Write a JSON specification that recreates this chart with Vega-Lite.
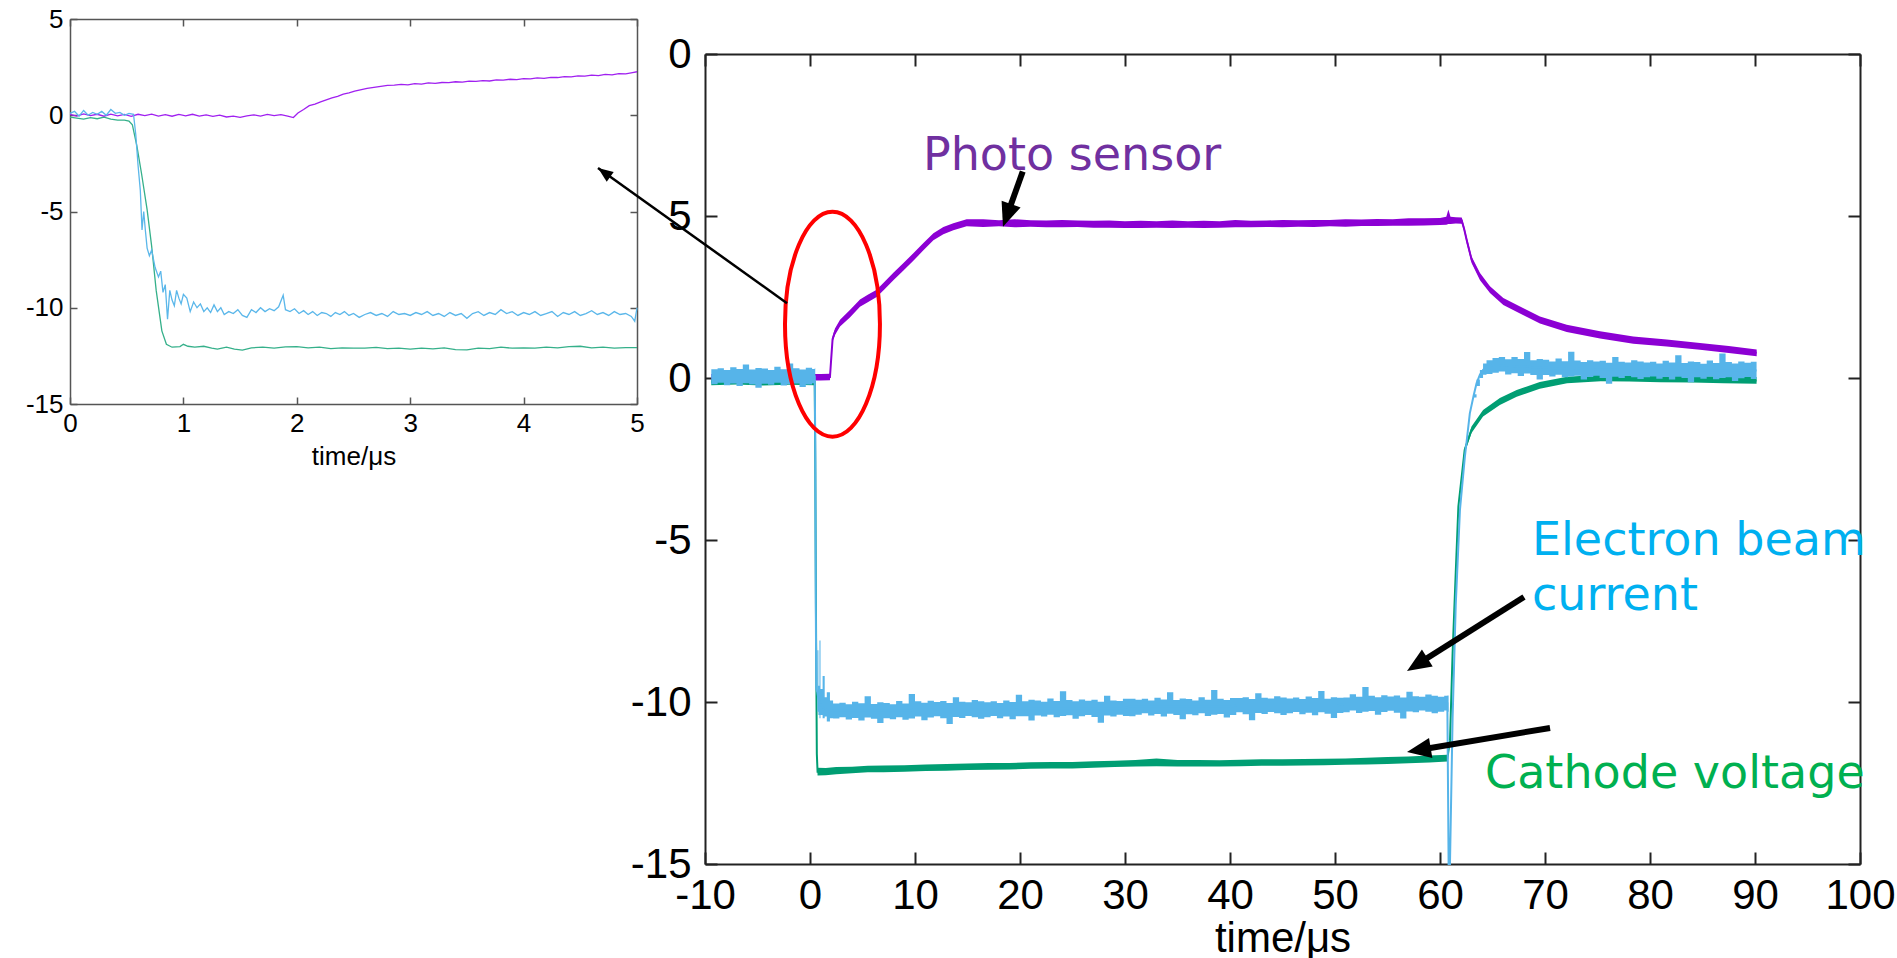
{
  "$schema": "https://vega.github.io/schema/vega-lite/v6.json",
  "background": "white",
  "padding": {"left": 25, "top": 6, "right": 0, "bottom": 0},
  "bounds": "flush",
  "spacing": 68,
  "config": {
    "view": {"stroke": null},
    "axis": {
      "grid": false,
      "labelFont": "Liberation Sans",
      "titleFont": "Liberation Sans",
      "labelColor": "#000",
      "titleColor": "#000",
      "titleFontWeight": "normal",
      "domainColor": "#222",
      "tickColor": "#222"
    }
  },
  "datasets": {
    "insetPhoto": [
      {"t":0.00,"y":0.04},{"t":0.06,"y":-0.04},{"t":0.12,"y":0.07},{"t":0.18,"y":-0.02},{"t":0.24,"y":0.05},{"t":0.30,"y":-0.05},
      {"t":0.36,"y":0.06},{"t":0.42,"y":-0.03},{"t":0.48,"y":0.04},{"t":0.54,"y":-0.06},{"t":0.60,"y":0.05},{"t":0.66,"y":-0.02},
      {"t":0.72,"y":0.06},{"t":0.78,"y":-0.04},{"t":0.84,"y":0.03},{"t":0.90,"y":-0.05},{"t":0.96,"y":0.04},{"t":1.02,"y":-0.03},
      {"t":1.08,"y":0.05},{"t":1.14,"y":-0.04},{"t":1.20,"y":0.02},{"t":1.26,"y":-0.06},{"t":1.32,"y":0.01},{"t":1.38,"y":-0.09},
      {"t":1.44,"y":-0.05},{"t":1.50,"y":-0.11},{"t":1.56,"y":-0.03},{"t":1.62,"y":0.02},{"t":1.68,"y":-0.04},{"t":1.74,"y":0.04},
      {"t":1.80,"y":-0.02},{"t":1.86,"y":0.03},{"t":1.92,"y":-0.04},{"t":1.97,"y":-0.12},{"t":2.01,"y":0.12},{"t":2.06,"y":0.30},
      {"t":2.11,"y":0.50},{"t":2.16,"y":0.58},{"t":2.21,"y":0.70},{"t":2.26,"y":0.80},{"t":2.31,"y":0.90},{"t":2.36,"y":0.98},
      {"t":2.41,"y":1.10},{"t":2.46,"y":1.16},{"t":2.51,"y":1.25},{"t":2.56,"y":1.32},{"t":2.62,"y":1.40},{"t":2.68,"y":1.45},
      {"t":2.74,"y":1.50},{"t":2.80,"y":1.55},{"t":2.86,"y":1.56},{"t":2.92,"y":1.60},{"t":2.98,"y":1.58},{"t":3.04,"y":1.64},
      {"t":3.10,"y":1.62},{"t":3.16,"y":1.68},{"t":3.22,"y":1.66},{"t":3.28,"y":1.70},{"t":3.34,"y":1.69},{"t":3.40,"y":1.74},
      {"t":3.46,"y":1.72},{"t":3.52,"y":1.77},{"t":3.58,"y":1.76},{"t":3.64,"y":1.80},{"t":3.70,"y":1.78},{"t":3.76,"y":1.84},
      {"t":3.82,"y":1.82},{"t":3.88,"y":1.87},{"t":3.94,"y":1.85},{"t":4.00,"y":1.90},{"t":4.06,"y":1.89},{"t":4.12,"y":1.94},
      {"t":4.18,"y":1.92},{"t":4.24,"y":1.97},{"t":4.30,"y":1.96},{"t":4.36,"y":2.01},{"t":4.42,"y":1.99},{"t":4.48,"y":2.04},
      {"t":4.54,"y":2.03},{"t":4.60,"y":2.08},{"t":4.66,"y":2.06},{"t":4.72,"y":2.12},{"t":4.78,"y":2.10},{"t":4.84,"y":2.16},
      {"t":4.90,"y":2.15},{"t":4.96,"y":2.22},{"t":5.00,"y":2.26}
    ],
    "insetCathode": [
      {"t":0.00,"y":-0.10},{"t":0.06,"y":-0.15},{"t":0.12,"y":-0.20},{"t":0.18,"y":-0.12},{"t":0.24,"y":-0.18},{"t":0.30,"y":-0.10},
      {"t":0.36,"y":-0.20},{"t":0.42,"y":-0.25},{"t":0.48,"y":-0.25},{"t":0.52,"y":-0.30},{"t":0.55,"y":-0.50},{"t":0.59,"y":-1.60},
      {"t":0.63,"y":-3.00},{"t":0.68,"y":-4.90},{"t":0.72,"y":-6.80},{"t":0.76,"y":-9.10},{"t":0.81,"y":-11.20},{"t":0.85,"y":-11.90},
      {"t":0.90,"y":-12.05},{"t":0.97,"y":-12.02},{"t":1.00,"y":-11.90},{"t":1.04,"y":-12.00},{"t":1.10,"y":-12.05},{"t":1.18,"y":-12.00},
      {"t":1.25,"y":-12.10},{"t":1.30,"y":-12.15},{"t":1.38,"y":-12.05},{"t":1.45,"y":-12.15},{"t":1.52,"y":-12.20},{"t":1.60,"y":-12.08},
      {"t":1.70,"y":-12.05},{"t":1.80,"y":-12.10},{"t":1.90,"y":-12.03},{"t":2.00,"y":-12.02},{"t":2.10,"y":-12.08},{"t":2.20,"y":-12.05},
      {"t":2.30,"y":-12.12},{"t":2.40,"y":-12.08},{"t":2.50,"y":-12.10},{"t":2.60,"y":-12.10},{"t":2.70,"y":-12.06},{"t":2.80,"y":-12.12},
      {"t":2.90,"y":-12.10},{"t":3.00,"y":-12.15},{"t":3.10,"y":-12.10},{"t":3.20,"y":-12.14},{"t":3.30,"y":-12.08},{"t":3.40,"y":-12.18},
      {"t":3.50,"y":-12.19},{"t":3.60,"y":-12.10},{"t":3.70,"y":-12.12},{"t":3.80,"y":-12.05},{"t":3.90,"y":-12.10},{"t":4.00,"y":-12.08},
      {"t":4.10,"y":-12.10},{"t":4.20,"y":-12.05},{"t":4.30,"y":-12.08},{"t":4.40,"y":-12.02},{"t":4.50,"y":-12.00},{"t":4.60,"y":-12.08},
      {"t":4.70,"y":-12.05},{"t":4.80,"y":-12.10},{"t":4.90,"y":-12.07},{"t":5.00,"y":-12.07}
    ],
    "insetBeam": [
      {"t":0.00,"y":0.10},{"t":0.04,"y":0.20},{"t":0.08,"y":-0.05},{"t":0.12,"y":0.25},{"t":0.16,"y":0.00},{"t":0.20,"y":0.15},
      {"t":0.24,"y":0.05},{"t":0.28,"y":0.20},{"t":0.32,"y":0.00},{"t":0.36,"y":0.30},{"t":0.40,"y":0.10},{"t":0.44,"y":0.15},
      {"t":0.48,"y":0.00},{"t":0.52,"y":0.10},{"t":0.56,"y":0.05},{"t":0.58,"y":-1.00},{"t":0.60,"y":-2.60},{"t":0.62,"y":-3.90},
      {"t":0.635,"y":-5.96},{"t":0.65,"y":-5.00},{"t":0.665,"y":-6.00},{"t":0.68,"y":-6.90},{"t":0.70,"y":-7.30},{"t":0.72,"y":-7.00},
      {"t":0.75,"y":-7.90},{"t":0.78,"y":-8.40},{"t":0.80,"y":-8.10},{"t":0.82,"y":-9.20},{"t":0.84,"y":-8.80},{"t":0.86,"y":-10.60},
      {"t":0.88,"y":-9.10},{"t":0.90,"y":-9.60},{"t":0.92,"y":-9.90},{"t":0.94,"y":-9.10},{"t":0.96,"y":-9.50},{"t":0.98,"y":-9.80},
      {"t":1.00,"y":-9.30},{"t":1.03,"y":-9.50},{"t":1.06,"y":-10.20},{"t":1.09,"y":-9.70},{"t":1.12,"y":-10.00},{"t":1.15,"y":-9.80},
      {"t":1.18,"y":-10.20},{"t":1.21,"y":-10.00},{"t":1.24,"y":-10.25},{"t":1.27,"y":-9.85},{"t":1.30,"y":-10.20},{"t":1.33,"y":-10.00},
      {"t":1.36,"y":-10.35},{"t":1.40,"y":-10.20},{"t":1.44,"y":-10.30},{"t":1.48,"y":-10.10},{"t":1.52,"y":-10.40},{"t":1.56,"y":-10.50},
      {"t":1.60,"y":-10.10},{"t":1.64,"y":-10.25},{"t":1.68,"y":-10.00},{"t":1.72,"y":-10.20},{"t":1.76,"y":-10.05},{"t":1.80,"y":-10.15},
      {"t":1.84,"y":-9.95},{"t":1.88,"y":-9.35},{"t":1.90,"y":-10.10},{"t":1.94,"y":-10.20},{"t":1.98,"y":-10.05},{"t":2.02,"y":-10.30},
      {"t":2.06,"y":-10.15},{"t":2.10,"y":-10.35},{"t":2.14,"y":-10.20},{"t":2.18,"y":-10.40},{"t":2.22,"y":-10.25},{"t":2.26,"y":-10.30},
      {"t":2.30,"y":-10.45},{"t":2.34,"y":-10.25},{"t":2.38,"y":-10.35},{"t":2.42,"y":-10.20},{"t":2.46,"y":-10.40},{"t":2.50,"y":-10.30},
      {"t":2.55,"y":-10.50},{"t":2.60,"y":-10.35},{"t":2.65,"y":-10.25},{"t":2.70,"y":-10.40},{"t":2.75,"y":-10.30},{"t":2.80,"y":-10.45},
      {"t":2.85,"y":-10.20},{"t":2.90,"y":-10.35},{"t":2.95,"y":-10.30},{"t":3.00,"y":-10.40},{"t":3.05,"y":-10.25},{"t":3.10,"y":-10.35},
      {"t":3.15,"y":-10.20},{"t":3.20,"y":-10.40},{"t":3.25,"y":-10.30},{"t":3.30,"y":-10.45},{"t":3.35,"y":-10.25},{"t":3.40,"y":-10.40},
      {"t":3.45,"y":-10.30},{"t":3.50,"y":-10.55},{"t":3.55,"y":-10.30},{"t":3.60,"y":-10.20},{"t":3.65,"y":-10.40},{"t":3.70,"y":-10.25},
      {"t":3.75,"y":-10.35},{"t":3.80,"y":-10.10},{"t":3.85,"y":-10.30},{"t":3.90,"y":-10.20},{"t":3.95,"y":-10.40},{"t":4.00,"y":-10.25},
      {"t":4.05,"y":-10.35},{"t":4.10,"y":-10.20},{"t":4.15,"y":-10.40},{"t":4.20,"y":-10.30},{"t":4.25,"y":-10.20},{"t":4.30,"y":-10.45},
      {"t":4.35,"y":-10.25},{"t":4.40,"y":-10.35},{"t":4.45,"y":-10.20},{"t":4.50,"y":-10.40},{"t":4.55,"y":-10.30},{"t":4.60,"y":-10.15},
      {"t":4.65,"y":-10.35},{"t":4.70,"y":-10.25},{"t":4.75,"y":-10.40},{"t":4.80,"y":-10.20},{"t":4.85,"y":-10.35},{"t":4.90,"y":-10.30},
      {"t":4.95,"y":-10.45},{"t":4.98,"y":-10.70},{"t":5.00,"y":-10.00}
    ],
    "mainPhoto": [
      {"t":-9.4,"y":0.02,"lo":-0.08,"hi":0.12},{"t":-6,"y":0.02,"lo":-0.08,"hi":0.12},{"t":-3,"y":0.02,"lo":-0.08,"hi":0.12},
      {"t":0,"y":0.02,"lo":-0.08,"hi":0.12},{"t":1.0,"y":0.02,"lo":-0.08,"hi":0.12},{"t":1.9,"y":0.03,"lo":-0.07,"hi":0.13},
      {"t":2.0,"y":0.5,"lo":0.5,"hi":0.5},{"t":2.15,"y":1.2,"lo":1.12,"hi":1.28},{"t":2.38,"y":1.43,"lo":1.33,"hi":1.53},
      {"t":2.86,"y":1.69,"lo":1.59,"hi":1.8},{"t":3.8,"y":1.98,"lo":1.87,"hi":2.1},{"t":4.76,"y":2.31,"lo":2.2,"hi":2.42},
      {"t":5.5,"y":2.45,"lo":2.34,"hi":2.57},{"t":6.35,"y":2.61,"lo":2.5,"hi":2.72},{"t":7.1,"y":2.85,"lo":2.74,"hi":2.97},
      {"t":7.94,"y":3.13,"lo":3.02,"hi":3.25},{"t":8.9,"y":3.43,"lo":3.32,"hi":3.55},{"t":9.84,"y":3.74,"lo":3.62,"hi":3.85},
      {"t":10.8,"y":4.05,"lo":3.94,"hi":4.17},{"t":11.75,"y":4.36,"lo":4.25,"hi":4.47},{"t":12.7,"y":4.55,"lo":4.44,"hi":4.66},
      {"t":13.65,"y":4.67,"lo":4.56,"hi":4.78},{"t":14.92,"y":4.79,"lo":4.68,"hi":4.9},{"t":16.5,"y":4.77,"lo":4.66,"hi":4.9},
      {"t":18.0,"y":4.78,"lo":4.68,"hi":4.87},{"t":19.5,"y":4.76,"lo":4.65,"hi":4.9},{"t":21.0,"y":4.77,"lo":4.67,"hi":4.87},
      {"t":22.5,"y":4.76,"lo":4.65,"hi":4.86},{"t":24.0,"y":4.75,"lo":4.65,"hi":4.88},{"t":25.5,"y":4.76,"lo":4.66,"hi":4.86},
      {"t":27.0,"y":4.75,"lo":4.64,"hi":4.85},{"t":28.5,"y":4.74,"lo":4.64,"hi":4.86},{"t":30.0,"y":4.74,"lo":4.63,"hi":4.84},
      {"t":31.5,"y":4.73,"lo":4.63,"hi":4.85},{"t":33.0,"y":4.74,"lo":4.64,"hi":4.84},{"t":34.5,"y":4.73,"lo":4.63,"hi":4.86},
      {"t":36.0,"y":4.74,"lo":4.64,"hi":4.84},{"t":37.5,"y":4.74,"lo":4.63,"hi":4.85},{"t":39.0,"y":4.74,"lo":4.64,"hi":4.84},
      {"t":40.5,"y":4.75,"lo":4.65,"hi":4.88},{"t":42.0,"y":4.75,"lo":4.65,"hi":4.85},{"t":43.5,"y":4.76,"lo":4.66,"hi":4.86},
      {"t":45.0,"y":4.76,"lo":4.65,"hi":4.88},{"t":46.5,"y":4.77,"lo":4.67,"hi":4.87},{"t":48.0,"y":4.77,"lo":4.66,"hi":4.88},
      {"t":49.5,"y":4.78,"lo":4.68,"hi":4.88},{"t":51.0,"y":4.78,"lo":4.67,"hi":4.9},{"t":52.5,"y":4.79,"lo":4.69,"hi":4.89},
      {"t":54.0,"y":4.8,"lo":4.69,"hi":4.91},{"t":55.5,"y":4.8,"lo":4.7,"hi":4.9},{"t":57.0,"y":4.81,"lo":4.7,"hi":4.93},
      {"t":58.5,"y":4.82,"lo":4.71,"hi":4.93},{"t":60.0,"y":4.83,"lo":4.72,"hi":4.94},{"t":60.6,"y":4.84,"lo":4.73,"hi":4.98},
      {"t":60.8,"y":4.9,"lo":4.75,"hi":5.2},{"t":61.0,"y":4.86,"lo":4.75,"hi":4.98},{"t":61.5,"y":4.87,"lo":4.77,"hi":4.96},
      {"t":62.07,"y":4.86,"lo":4.76,"hi":4.95},{"t":62.3,"y":4.6,"lo":4.52,"hi":4.68},{"t":62.54,"y":4.26,"lo":4.16,"hi":4.36},
      {"t":63.02,"y":3.64,"lo":3.54,"hi":3.74},{"t":63.81,"y":3.13,"lo":3.02,"hi":3.24},{"t":64.76,"y":2.72,"lo":2.62,"hi":2.83},
      {"t":66.03,"y":2.36,"lo":2.25,"hi":2.47},{"t":67.62,"y":2.1,"lo":1.99,"hi":2.21},{"t":69.52,"y":1.79,"lo":1.68,"hi":1.9},
      {"t":72.07,"y":1.53,"lo":1.42,"hi":1.64},{"t":75.24,"y":1.33,"lo":1.22,"hi":1.44},{"t":78.41,"y":1.17,"lo":1.06,"hi":1.28},
      {"t":81.59,"y":1.08,"lo":0.97,"hi":1.19},{"t":84.76,"y":0.98,"lo":0.87,"hi":1.08},{"t":87.5,"y":0.88,"lo":0.77,"hi":0.99},
      {"t":90.16,"y":0.78,"lo":0.67,"hi":0.88}
    ],
    "mainCathode": [
      {"t":-9.4,"y":-0.12,"lo":-0.22,"hi":-0.02},{"t":-7,"y":-0.1,"lo":-0.2,"hi":0.0},{"t":-4.5,"y":-0.13,"lo":-0.23,"hi":-0.03},
      {"t":-2,"y":-0.11,"lo":-0.21,"hi":-0.01},{"t":0.45,"y":-0.12,"lo":-0.22,"hi":-0.02},{"t":0.5,"y":-2.5,"lo":-2.5,"hi":-2.5},
      {"t":0.58,"y":-8.0,"lo":-8.0,"hi":-8.0},{"t":0.65,"y":-11.6,"lo":-11.6,"hi":-11.6},{"t":0.72,"y":-12.15,"lo":-12.27,"hi":-12.03},
      {"t":1.5,"y":-12.15,"lo":-12.26,"hi":-12.04},{"t":2.5,"y":-12.12,"lo":-12.23,"hi":-12.01},{"t":4,"y":-12.1,"lo":-12.2,"hi":-12.0},
      {"t":5.5,"y":-12.07,"lo":-12.17,"hi":-11.97},{"t":7,"y":-12.06,"lo":-12.17,"hi":-11.96},{"t":9,"y":-12.05,"lo":-12.15,"hi":-11.95},
      {"t":11,"y":-12.03,"lo":-12.13,"hi":-11.93},{"t":13,"y":-12.02,"lo":-12.12,"hi":-11.91},{"t":15,"y":-12.0,"lo":-12.1,"hi":-11.9},
      {"t":17,"y":-11.99,"lo":-12.09,"hi":-11.88},{"t":19,"y":-11.98,"lo":-12.08,"hi":-11.88},{"t":21,"y":-11.96,"lo":-12.06,"hi":-11.86},
      {"t":23,"y":-11.95,"lo":-12.05,"hi":-11.85},{"t":25,"y":-11.95,"lo":-12.05,"hi":-11.85},{"t":27,"y":-11.93,"lo":-12.03,"hi":-11.83},
      {"t":29,"y":-11.91,"lo":-12.01,"hi":-11.81},{"t":31,"y":-11.89,"lo":-11.99,"hi":-11.79},{"t":33,"y":-11.88,"lo":-11.98,"hi":-11.74},
      {"t":35,"y":-11.89,"lo":-11.99,"hi":-11.79},{"t":37,"y":-11.89,"lo":-11.99,"hi":-11.79},{"t":39,"y":-11.89,"lo":-11.99,"hi":-11.8},
      {"t":41,"y":-11.88,"lo":-11.98,"hi":-11.78},{"t":43,"y":-11.87,"lo":-11.97,"hi":-11.77},{"t":45,"y":-11.87,"lo":-11.97,"hi":-11.77},
      {"t":47,"y":-11.86,"lo":-11.96,"hi":-11.76},{"t":49,"y":-11.85,"lo":-11.95,"hi":-11.75},{"t":51,"y":-11.84,"lo":-11.94,"hi":-11.74},
      {"t":53,"y":-11.83,"lo":-11.93,"hi":-11.72},{"t":55,"y":-11.81,"lo":-11.91,"hi":-11.7},{"t":57,"y":-11.79,"lo":-11.89,"hi":-11.68},
      {"t":59,"y":-11.76,"lo":-11.87,"hi":-11.65},{"t":60.7,"y":-11.74,"lo":-11.84,"hi":-11.63},{"t":60.95,"y":-11.2,"lo":-11.2,"hi":-11.2},
      {"t":61.2,"y":-8.5,"lo":-8.5,"hi":-8.5},{"t":61.5,"y":-6.0,"lo":-6.0,"hi":-6.0},{"t":61.75,"y":-3.97,"lo":-3.97,"hi":-3.97},
      {"t":62.35,"y":-2.22,"lo":-2.3,"hi":-2.14},{"t":63.0,"y":-1.6,"lo":-1.7,"hi":-1.5},{"t":64.1,"y":-1.09,"lo":-1.19,"hi":-0.99},
      {"t":65.7,"y":-0.73,"lo":-0.83,"hi":-0.62},{"t":67.3,"y":-0.47,"lo":-0.58,"hi":-0.37},{"t":69.5,"y":-0.22,"lo":-0.33,"hi":-0.12},
      {"t":72.1,"y":-0.06,"lo":-0.16,"hi":0.04},{"t":75.3,"y":0.0,"lo":-0.1,"hi":0.1},{"t":78,"y":-0.01,"lo":-0.11,"hi":0.09},
      {"t":81,"y":-0.03,"lo":-0.13,"hi":0.08},{"t":84,"y":-0.04,"lo":-0.14,"hi":0.06},{"t":87,"y":-0.06,"lo":-0.16,"hi":0.05},
      {"t":90.15,"y":-0.08,"lo":-0.18,"hi":0.03}
    ],
    "mainBeam": [
      {"t":-9.4,"y":0.05,"lo":-0.19,"hi":0.27},{"t":-8.8,"y":0.05,"lo":-0.15,"hi":0.3},{"t":-8.2,"y":0.05,"lo":-0.22,"hi":0.25},
      {"t":-7.6,"y":0.05,"lo":-0.17,"hi":0.33},{"t":-7.0,"y":0.05,"lo":-0.25,"hi":0.28},{"t":-6.4,"y":0.05,"lo":-0.16,"hi":0.42},
      {"t":-5.8,"y":0.05,"lo":-0.2,"hi":0.26},{"t":-5.2,"y":0.05,"lo":-0.3,"hi":0.31},{"t":-4.6,"y":0.05,"lo":-0.18,"hi":0.29},
      {"t":-4.0,"y":0.05,"lo":-0.21,"hi":0.25},{"t":-3.4,"y":0.05,"lo":-0.15,"hi":0.35},{"t":-2.8,"y":0.05,"lo":-0.23,"hi":0.27},
      {"t":-2.2,"y":0.05,"lo":-0.19,"hi":0.45},{"t":-1.6,"y":0.05,"lo":-0.17,"hi":0.3},{"t":-1.0,"y":0.05,"lo":-0.28,"hi":0.26},
      {"t":-0.4,"y":0.05,"lo":-0.2,"hi":0.32},{"t":0.2,"y":0.05,"lo":-0.16,"hi":0.28},{"t":0.45,"y":0.05,"lo":-0.2,"hi":0.3},
      {"t":0.5,"y":-2.0,"lo":-2.0,"hi":-2.0},{"t":0.55,"y":-7.0,"lo":-7.0,"hi":-7.0},{"t":0.6,"y":-9.6,"lo":-9.6,"hi":-9.6},
      {"t":0.7,"y":-9.7,"lo":-10.3,"hi":-8.4},{"t":0.8,"y":-9.9,"lo":-10.4,"hi":-9.5},{"t":0.9,"y":-10.0,"lo":-10.5,"hi":-8.1},
      {"t":1.0,"y":-10.1,"lo":-10.4,"hi":-9.6},{"t":1.2,"y":-10.15,"lo":-10.5,"hi":-9.2},{"t":1.4,"y":-10.2,"lo":-10.45,"hi":-9.85},
      {"t":1.6,"y":-10.25,"lo":-10.6,"hi":-9.7},{"t":1.9,"y":-10.25,"lo":-10.5,"hi":-9.95},
      {"t":2.2,"y":-10.27,"lo":-10.51,"hi":-10.05},{"t":2.8,"y":-10.27,"lo":-10.47,"hi":-10.02},{"t":3.4,"y":-10.27,"lo":-10.54,"hi":-10.07},
      {"t":4.0,"y":-10.27,"lo":-10.49,"hi":-9.99},{"t":4.6,"y":-10.27,"lo":-10.57,"hi":-10.04},{"t":5.2,"y":-10.27,"lo":-10.48,"hi":-9.82},
      {"t":5.8,"y":-10.27,"lo":-10.52,"hi":-10.06},{"t":6.4,"y":-10.27,"lo":-10.65,"hi":-10.01},{"t":7.0,"y":-10.27,"lo":-10.5,"hi":-10.03},
      {"t":7.6,"y":-10.27,"lo":-10.53,"hi":-10.07},{"t":8.2,"y":-10.27,"lo":-10.47,"hi":-9.97},{"t":8.8,"y":-10.27,"lo":-10.55,"hi":-10.05},
      {"t":9.4,"y":-10.27,"lo":-10.51,"hi":-9.75},
      {"t":10.0,"y":-10.23,"lo":-10.45,"hi":-9.98},{"t":10.6,"y":-10.23,"lo":-10.56,"hi":-10.02},{"t":11.2,"y":-10.23,"lo":-10.48,"hi":-9.96},
      {"t":11.8,"y":-10.23,"lo":-10.44,"hi":-10.0},{"t":12.4,"y":-10.23,"lo":-10.5,"hi":-9.97},{"t":13.0,"y":-10.23,"lo":-10.68,"hi":-10.03},
      {"t":13.6,"y":-10.23,"lo":-10.46,"hi":-9.85},{"t":14.2,"y":-10.23,"lo":-10.49,"hi":-9.99},{"t":14.8,"y":-10.23,"lo":-10.43,"hi":-10.01},
      {"t":15.4,"y":-10.23,"lo":-10.47,"hi":-9.94},{"t":16.0,"y":-10.23,"lo":-10.52,"hi":-9.98},{"t":16.6,"y":-10.23,"lo":-10.47,"hi":-10.01},
      {"t":17.2,"y":-10.23,"lo":-10.43,"hi":-9.98},{"t":17.8,"y":-10.23,"lo":-10.5,"hi":-10.03},{"t":18.4,"y":-10.23,"lo":-10.45,"hi":-9.95},
      {"t":19.0,"y":-10.23,"lo":-10.53,"hi":-10.0},{"t":19.6,"y":-10.23,"lo":-10.44,"hi":-9.78},
      {"t":20.2,"y":-10.19,"lo":-10.44,"hi":-9.98},{"t":20.8,"y":-10.19,"lo":-10.57,"hi":-9.93},{"t":21.4,"y":-10.19,"lo":-10.42,"hi":-9.95},
      {"t":22.0,"y":-10.19,"lo":-10.45,"hi":-9.99},{"t":22.6,"y":-10.19,"lo":-10.39,"hi":-9.89},{"t":23.2,"y":-10.19,"lo":-10.47,"hi":-9.97},
      {"t":23.8,"y":-10.19,"lo":-10.43,"hi":-9.67},{"t":24.4,"y":-10.19,"lo":-10.41,"hi":-9.94},{"t":25.0,"y":-10.19,"lo":-10.52,"hi":-9.98},
      {"t":25.6,"y":-10.19,"lo":-10.44,"hi":-9.92},{"t":26.2,"y":-10.19,"lo":-10.4,"hi":-9.96},{"t":26.8,"y":-10.19,"lo":-10.46,"hi":-9.93},
      {"t":27.4,"y":-10.19,"lo":-10.64,"hi":-9.99},{"t":28.0,"y":-10.19,"lo":-10.42,"hi":-9.81},{"t":28.6,"y":-10.19,"lo":-10.45,"hi":-9.95},
      {"t":29.2,"y":-10.19,"lo":-10.39,"hi":-9.97},{"t":29.8,"y":-10.19,"lo":-10.43,"hi":-9.9},
      {"t":30.4,"y":-10.15,"lo":-10.44,"hi":-9.9},{"t":31.0,"y":-10.15,"lo":-10.39,"hi":-9.93},{"t":31.6,"y":-10.15,"lo":-10.35,"hi":-9.9},
      {"t":32.2,"y":-10.15,"lo":-10.42,"hi":-9.95},{"t":32.8,"y":-10.15,"lo":-10.37,"hi":-9.87},{"t":33.4,"y":-10.15,"lo":-10.45,"hi":-9.92},
      {"t":34.0,"y":-10.15,"lo":-10.36,"hi":-9.7},{"t":34.6,"y":-10.15,"lo":-10.4,"hi":-9.94},{"t":35.2,"y":-10.15,"lo":-10.53,"hi":-9.89},
      {"t":35.8,"y":-10.15,"lo":-10.38,"hi":-9.91},{"t":36.4,"y":-10.15,"lo":-10.41,"hi":-9.95},{"t":37.0,"y":-10.15,"lo":-10.35,"hi":-9.85},
      {"t":37.6,"y":-10.15,"lo":-10.43,"hi":-9.93},{"t":38.2,"y":-10.15,"lo":-10.39,"hi":-9.63},{"t":38.8,"y":-10.15,"lo":-10.37,"hi":-9.9},
      {"t":39.4,"y":-10.15,"lo":-10.48,"hi":-9.94},{"t":40.0,"y":-10.15,"lo":-10.4,"hi":-9.88},
      {"t":40.6,"y":-10.11,"lo":-10.32,"hi":-9.88},{"t":41.2,"y":-10.11,"lo":-10.38,"hi":-9.85},{"t":41.8,"y":-10.11,"lo":-10.56,"hi":-9.91},
      {"t":42.4,"y":-10.11,"lo":-10.34,"hi":-9.73},{"t":43.0,"y":-10.11,"lo":-10.37,"hi":-9.87},{"t":43.6,"y":-10.11,"lo":-10.31,"hi":-9.89},
      {"t":44.2,"y":-10.11,"lo":-10.35,"hi":-9.82},{"t":44.8,"y":-10.11,"lo":-10.4,"hi":-9.86},{"t":45.4,"y":-10.11,"lo":-10.35,"hi":-9.89},
      {"t":46.0,"y":-10.11,"lo":-10.31,"hi":-9.86},{"t":46.6,"y":-10.11,"lo":-10.38,"hi":-9.91},{"t":47.2,"y":-10.11,"lo":-10.33,"hi":-9.83},
      {"t":47.8,"y":-10.11,"lo":-10.41,"hi":-9.88},{"t":48.4,"y":-10.11,"lo":-10.32,"hi":-9.66},{"t":49.0,"y":-10.11,"lo":-10.36,"hi":-9.9},
      {"t":49.6,"y":-10.11,"lo":-10.49,"hi":-9.85},{"t":50.2,"y":-10.11,"lo":-10.34,"hi":-9.87},
      {"t":50.8,"y":-10.06,"lo":-10.32,"hi":-9.86},{"t":51.4,"y":-10.06,"lo":-10.26,"hi":-9.76},{"t":52.0,"y":-10.06,"lo":-10.34,"hi":-9.84},
      {"t":52.6,"y":-10.06,"lo":-10.3,"hi":-9.54},{"t":53.2,"y":-10.06,"lo":-10.28,"hi":-9.81},{"t":53.8,"y":-10.06,"lo":-10.39,"hi":-9.85},
      {"t":54.4,"y":-10.06,"lo":-10.31,"hi":-9.79},{"t":55.0,"y":-10.06,"lo":-10.27,"hi":-9.83},{"t":55.6,"y":-10.06,"lo":-10.33,"hi":-9.8},
      {"t":56.2,"y":-10.06,"lo":-10.51,"hi":-9.86},{"t":56.8,"y":-10.06,"lo":-10.29,"hi":-9.68},{"t":57.4,"y":-10.06,"lo":-10.32,"hi":-9.82},
      {"t":58.0,"y":-10.06,"lo":-10.26,"hi":-9.84},{"t":58.6,"y":-10.06,"lo":-10.3,"hi":-9.77},{"t":59.2,"y":-10.06,"lo":-10.35,"hi":-9.81},
      {"t":59.8,"y":-10.06,"lo":-10.3,"hi":-9.84},{"t":60.4,"y":-10.06,"lo":-10.26,"hi":-9.81},{"t":60.7,"y":-10.05,"lo":-10.3,"hi":-9.8},
      {"t":60.82,"y":-15.0,"lo":-15.0,"hi":-15.0},{"t":60.95,"y":-15.0,"lo":-15.0,"hi":-15.0},{"t":61.2,"y":-10.5,"lo":-10.5,"hi":-10.5},
      {"t":61.5,"y":-7.0,"lo":-7.0,"hi":-7.0},{"t":61.9,"y":-4.07,"lo":-4.07,"hi":-4.07},{"t":62.37,"y":-2.43,"lo":-2.43,"hi":-2.43},
      {"t":62.84,"y":-1.09,"lo":-1.09,"hi":-1.09},{"t":63.2,"y":-0.55,"lo":-0.6,"hi":-0.5},{"t":63.48,"y":-0.16,"lo":-0.25,"hi":-0.05},
      {"t":63.8,"y":0.1,"lo":0.0,"hi":0.25},{"t":64.1,"y":0.25,"lo":0.1,"hi":0.45},{"t":64.43,"y":0.35,"lo":0.12,"hi":0.55},
      {"t":65.0,"y":0.4,"lo":0.16,"hi":0.62},{"t":65.6,"y":0.4,"lo":0.2,"hi":0.65},{"t":66.2,"y":0.38,"lo":0.11,"hi":0.58},
      {"t":66.8,"y":0.37,"lo":0.15,"hi":0.65},{"t":67.4,"y":0.36,"lo":0.06,"hi":0.59},{"t":68.0,"y":0.35,"lo":0.14,"hi":0.8},
      {"t":68.6,"y":0.34,"lo":0.09,"hi":0.55},{"t":69.2,"y":0.33,"lo":-0.05,"hi":0.59},{"t":69.8,"y":0.32,"lo":0.09,"hi":0.56},
      {"t":70.4,"y":0.31,"lo":0.05,"hi":0.51},{"t":71.0,"y":0.3,"lo":0.1,"hi":0.6},{"t":71.6,"y":0.3,"lo":0.02,"hi":0.52},
      {"t":72.2,"y":0.29,"lo":0.05,"hi":0.81},{"t":72.8,"y":0.29,"lo":0.07,"hi":0.54},{"t":73.4,"y":0.28,"lo":-0.05,"hi":0.49},
      {"t":74.0,"y":0.28,"lo":0.03,"hi":0.55},{"t":74.6,"y":0.28,"lo":0.07,"hi":0.51},{"t":75.2,"y":0.27,"lo":0.0,"hi":0.53},
      {"t":75.8,"y":0.27,"lo":-0.18,"hi":0.47},{"t":76.4,"y":0.27,"lo":0.04,"hi":0.65},{"t":77.0,"y":0.26,"lo":0.0,"hi":0.5},
      {"t":77.6,"y":0.26,"lo":0.06,"hi":0.48},{"t":78.2,"y":0.26,"lo":0.02,"hi":0.55},{"t":78.8,"y":0.26,"lo":-0.03,"hi":0.51},
      {"t":79.4,"y":0.26,"lo":0.02,"hi":0.48},{"t":80.0,"y":0.25,"lo":0.05,"hi":0.5},{"t":80.6,"y":0.25,"lo":-0.02,"hi":0.45},
      {"t":81.2,"y":0.25,"lo":0.03,"hi":0.53},{"t":81.8,"y":0.25,"lo":-0.05,"hi":0.48},{"t":82.4,"y":0.25,"lo":0.04,"hi":0.7},
      {"t":83.0,"y":0.25,"lo":0.0,"hi":0.46},{"t":83.6,"y":0.25,"lo":-0.13,"hi":0.51},{"t":84.2,"y":0.25,"lo":0.02,"hi":0.49},
      {"t":84.8,"y":0.24,"lo":-0.02,"hi":0.44},{"t":85.4,"y":0.24,"lo":0.04,"hi":0.54},{"t":86.0,"y":0.24,"lo":-0.04,"hi":0.46},
      {"t":86.6,"y":0.24,"lo":0.0,"hi":0.76},{"t":87.2,"y":0.24,"lo":0.02,"hi":0.49},{"t":87.8,"y":0.24,"lo":-0.09,"hi":0.45},
      {"t":88.4,"y":0.24,"lo":-0.01,"hi":0.51},{"t":89.0,"y":0.24,"lo":0.03,"hi":0.47},{"t":89.6,"y":0.24,"lo":-0.03,"hi":0.5},
      {"t":90.15,"y":0.23,"lo":-0.02,"hi":0.45}
    ],
    "notes": [
      {"text":"Photo sensor","k":"photo","t":10.76,"v":6.42},
      {"text":"Electron beam","k":"beam","t":68.76,"v":-5.46},
      {"text":"current","k":"beam","t":68.76,"v":-7.16},
      {"text":"Cathode voltage","k":"cathode","t":64.29,"v":-12.65}
    ],
    "pointers": [
      {"k":"photo","t":20.26,"v":6.37,"te":18.70,"ve":4.96,"t2":18.38,"v2":4.67},
      {"k":"beam","t":68.0,"v":-6.76,"te":57.66,"ve":-8.875,"t2":56.86,"v2":-9.04},
      {"k":"cathode","t":70.48,"v":-10.8,"te":57.80,"ve":-11.49,"t2":56.86,"v2":-11.54}
    ],
    "zoomPointer": [
      {"t":-2.19,"v":2.31,"t2":-20.19,"v2":6.48}
    ],
    "zoomRegion": [
      {"t":2.14,"v":1.66}
    ]
  },
  "hconcat": [
    {
      "width": 567,
      "height": 350,
      "resolve": {"axis": {"x": "independent", "y": "independent"}},
      "layer": [
        {
          "data": {"name": "insetPhoto"},
          "mark": {"type": "line", "color": "#A020F0", "strokeWidth": 1.3},
          "encoding": {
            "x": {"field": "t", "type": "quantitative", "scale": {"domain": [0, 5], "nice": false, "zero": false},
              "axis": {"orient": "bottom", "values": [0, 1, 2, 3, 4, 5], "tickSize": -7, "tickWidth": 1.5, "domainWidth": 1.5,
                "domainColor": "#555", "tickColor": "#555", "labelPadding": 13, "labelFontSize": 26, "labelFlush": false,
                "labelOverlap": false, "labelExpr": "'' + datum.value", "title": "time/μs", "titleFontSize": 26, "titlePadding": 7}},
            "y": {"field": "y", "type": "quantitative", "scale": {"domain": [-15, 5], "range": [350, -35], "nice": false, "zero": false},
              "axis": {"orient": "left", "values": [-15, -10, -5, 0, 5], "tickSize": -7, "tickWidth": 1.5, "domainWidth": 1.5,
                "domainColor": "#555", "tickColor": "#555", "labelPadding": 14, "labelFontSize": 26, "labelFlush": false,
                "labelOverlap": false, "labelExpr": "'' + datum.value", "title": null}}
          }
        },
        {
          "data": {"name": "insetCathode"},
          "mark": {"type": "line", "color": "#35B08A", "strokeWidth": 1.3},
          "encoding": {
            "x": {"field": "t", "type": "quantitative", "scale": {"domain": [0, 5], "nice": false, "zero": false},
              "axis": {"orient": "top", "values": [0, 1, 2, 3, 4, 5], "tickSize": -7, "tickWidth": 1.5, "domainWidth": 1.5,
                "domainColor": "#555", "tickColor": "#555", "labels": false, "title": null, "offset": 35}},
            "y": {"field": "y", "type": "quantitative", "scale": {"domain": [-15, 5], "range": [350, -35], "nice": false, "zero": false},
              "axis": {"orient": "right", "values": [-15, -10, -5, 0, 5], "tickSize": -7, "tickWidth": 1.5, "domainWidth": 1.5,
                "domainColor": "#555", "tickColor": "#555", "labels": false, "title": null}}
          }
        },
        {
          "data": {"name": "insetBeam"},
          "mark": {"type": "line", "color": "#5BB7EA", "strokeWidth": 1.3},
          "encoding": {
            "x": {"field": "t", "type": "quantitative", "scale": {"domain": [0, 5], "nice": false, "zero": false}, "axis": null},
            "y": {"field": "y", "type": "quantitative", "scale": {"domain": [-15, 5], "range": [350, -35], "nice": false, "zero": false}, "axis": null}
          }
        }
      ]
    },
    {
      "width": 1155,
      "height": 810,
      "resolve": {"axis": {"x": "independent", "y": "independent"}},
      "layer": [
        {
          "data": {"name": "mainPhoto"},
          "mark": {"type": "area", "color": "#8C00D4", "opacity": 1},
          "encoding": {
            "x": {"field": "t", "type": "quantitative", "scale": {"domain": [-10, 100], "nice": false, "zero": false},
              "axis": {"orient": "bottom", "values": [-10, 0, 10, 20, 30, 40, 50, 60, 70, 80, 90, 100], "tickSize": -12,
                "tickWidth": 2, "domainWidth": 2, "labelPadding": 23, "labelFontSize": 42, "labelFlush": false,
                "labelOverlap": false, "labelExpr": "'' + datum.value", "title": "time/μs", "titleFontSize": 42, "titlePadding": 2}},
            "y": {"field": "lo", "type": "quantitative", "scale": {"domain": [-15, 10], "nice": false, "zero": false},
              "axis": {"orient": "left", "values": [-15, -10, -5, 0, 5, 10], "tickSize": -12, "tickWidth": 2, "domainWidth": 2,
                "labelPadding": 26, "labelFontSize": 42, "labelFlush": false, "labelOverlap": false,
                "labelExpr": "datum.value == 10 ? '0' : '' + datum.value", "title": null}},
            "y2": {"field": "hi"}
          }
        },
        {
          "data": {"name": "mainPhoto"},
          "mark": {"type": "line", "color": "#8C00D4", "strokeWidth": 2},
          "encoding": {
            "x": {"field": "t", "type": "quantitative", "scale": {"domain": [-10, 100], "nice": false, "zero": false},
              "axis": {"orient": "top", "values": [-10, 0, 10, 20, 30, 40, 50, 60, 70, 80, 90, 100], "tickSize": -12,
                "tickWidth": 2, "domainWidth": 2, "labels": false, "title": null}},
            "y": {"field": "y", "type": "quantitative", "scale": {"domain": [-15, 10], "nice": false, "zero": false},
              "axis": {"orient": "right", "values": [-15, -10, -5, 0, 5, 10], "tickSize": -12, "tickWidth": 2, "domainWidth": 2,
                "labels": false, "title": null}}
          }
        },
        {
          "data": {"name": "mainCathode"},
          "mark": {"type": "area", "color": "#009E73", "opacity": 1},
          "encoding": {
            "x": {"field": "t", "type": "quantitative", "scale": {"domain": [-10, 100], "nice": false, "zero": false}, "axis": null},
            "y": {"field": "lo", "type": "quantitative", "scale": {"domain": [-15, 10], "nice": false, "zero": false}, "axis": null},
            "y2": {"field": "hi"}
          }
        },
        {
          "data": {"name": "mainCathode"},
          "mark": {"type": "line", "color": "#009E73", "strokeWidth": 2},
          "encoding": {
            "x": {"field": "t", "type": "quantitative", "scale": {"domain": [-10, 100], "nice": false, "zero": false}, "axis": null},
            "y": {"field": "y", "type": "quantitative", "scale": {"domain": [-15, 10], "nice": false, "zero": false}, "axis": null}
          }
        },
        {
          "data": {"name": "mainBeam"},
          "mark": {"type": "area", "color": "#56B4E9", "opacity": 1, "interpolate": "step-after"},
          "encoding": {
            "x": {"field": "t", "type": "quantitative", "scale": {"domain": [-10, 100], "nice": false, "zero": false}, "axis": null},
            "y": {"field": "lo", "type": "quantitative", "scale": {"domain": [-15, 10], "nice": false, "zero": false}, "axis": null},
            "y2": {"field": "hi"}
          }
        },
        {
          "data": {"name": "mainBeam"},
          "mark": {"type": "line", "color": "#56B4E9", "strokeWidth": 2},
          "encoding": {
            "x": {"field": "t", "type": "quantitative", "scale": {"domain": [-10, 100], "nice": false, "zero": false}, "axis": null},
            "y": {"field": "y", "type": "quantitative", "scale": {"domain": [-15, 10], "nice": false, "zero": false}, "axis": null}
          }
        },
        {
          "data": {"name": "zoomRegion"},
          "mark": {"type": "point", "shape": "M0.422,0C0.422,0.552 0.233,1 0,1C-0.233,1 -0.422,0.552 -0.422,0C-0.422,-0.552 -0.233,-1 0,-1C0.233,-1 0.422,-0.552 0.422,0Z",
            "size": 50625, "filled": false, "stroke": "#FF0000", "strokeWidth": 4, "opacity": 1},
          "encoding": {
            "x": {"field": "t", "type": "quantitative", "scale": {"domain": [-10, 100], "nice": false, "zero": false}, "axis": null},
            "y": {"field": "v", "type": "quantitative", "scale": {"domain": [-15, 10], "nice": false, "zero": false}, "axis": null}
          }
        },
        {
          "data": {"name": "zoomPointer"},
          "mark": {"type": "rule", "color": "#000", "strokeWidth": 2.5},
          "encoding": {
            "x": {"field": "t", "type": "quantitative", "scale": {"domain": [-10, 100], "nice": false, "zero": false}, "axis": null},
            "y": {"field": "v", "type": "quantitative", "scale": {"domain": [-15, 10], "nice": false, "zero": false}, "axis": null},
            "x2": {"field": "t2"},
            "y2": {"field": "v2"}
          }
        },
        {
          "data": {"name": "zoomPointer"},
          "mark": {"type": "point", "shape": "M0,0L0.4,1L-0.4,1Z", "angle": 305.6, "size": 900, "filled": true, "color": "#000", "opacity": 1},
          "encoding": {
            "x": {"field": "t2", "type": "quantitative", "scale": {"domain": [-10, 100], "nice": false, "zero": false}, "axis": null},
            "y": {"field": "v2", "type": "quantitative", "scale": {"domain": [-15, 10], "nice": false, "zero": false}, "axis": null}
          }
        },
        {
          "data": {"name": "pointers"},
          "mark": {"type": "rule", "color": "#000", "strokeWidth": 6},
          "encoding": {
            "x": {"field": "t", "type": "quantitative", "scale": {"domain": [-10, 100], "nice": false, "zero": false}, "axis": null},
            "y": {"field": "v", "type": "quantitative", "scale": {"domain": [-15, 10], "nice": false, "zero": false}, "axis": null},
            "x2": {"field": "te"},
            "y2": {"field": "ve"}
          }
        },
        {
          "data": {"name": "pointers"},
          "transform": [{"filter": "datum.k == 'photo'"}],
          "mark": {"type": "point", "shape": "M0,0L0.42,1L-0.42,1Z", "angle": 199.7, "size": 2304, "filled": true, "color": "#000", "opacity": 1},
          "encoding": {
            "x": {"field": "t2", "type": "quantitative", "scale": {"domain": [-10, 100], "nice": false, "zero": false}, "axis": null},
            "y": {"field": "v2", "type": "quantitative", "scale": {"domain": [-15, 10], "nice": false, "zero": false}, "axis": null}
          }
        },
        {
          "data": {"name": "pointers"},
          "transform": [{"filter": "datum.k == 'beam'"}],
          "mark": {"type": "point", "shape": "M0,0L0.42,1L-0.42,1Z", "angle": 237.7, "size": 2304, "filled": true, "color": "#000", "opacity": 1},
          "encoding": {
            "x": {"field": "t2", "type": "quantitative", "scale": {"domain": [-10, 100], "nice": false, "zero": false}, "axis": null},
            "y": {"field": "v2", "type": "quantitative", "scale": {"domain": [-15, 10], "nice": false, "zero": false}, "axis": null}
          }
        },
        {
          "data": {"name": "pointers"},
          "transform": [{"filter": "datum.k == 'cathode'"}],
          "mark": {"type": "point", "shape": "M0,0L0.42,1L-0.42,1Z", "angle": 260.5, "size": 2304, "filled": true, "color": "#000", "opacity": 1},
          "encoding": {
            "x": {"field": "t2", "type": "quantitative", "scale": {"domain": [-10, 100], "nice": false, "zero": false}, "axis": null},
            "y": {"field": "v2", "type": "quantitative", "scale": {"domain": [-15, 10], "nice": false, "zero": false}, "axis": null}
          }
        },
        {
          "data": {"name": "notes"},
          "mark": {"type": "text", "font": "DejaVu Sans", "fontSize": 46, "align": "left", "baseline": "alphabetic"},
          "encoding": {
            "x": {"field": "t", "type": "quantitative", "scale": {"domain": [-10, 100], "nice": false, "zero": false}, "axis": null},
            "y": {"field": "v", "type": "quantitative", "scale": {"domain": [-15, 10], "nice": false, "zero": false}, "axis": null},
            "text": {"field": "text"},
            "color": {"field": "k", "type": "nominal", "scale": {"domain": ["photo", "beam", "cathode"], "range": ["#7030A0", "#00B0F0", "#00B050"]}, "legend": null}
          }
        }
      ]
    }
  ]
}
